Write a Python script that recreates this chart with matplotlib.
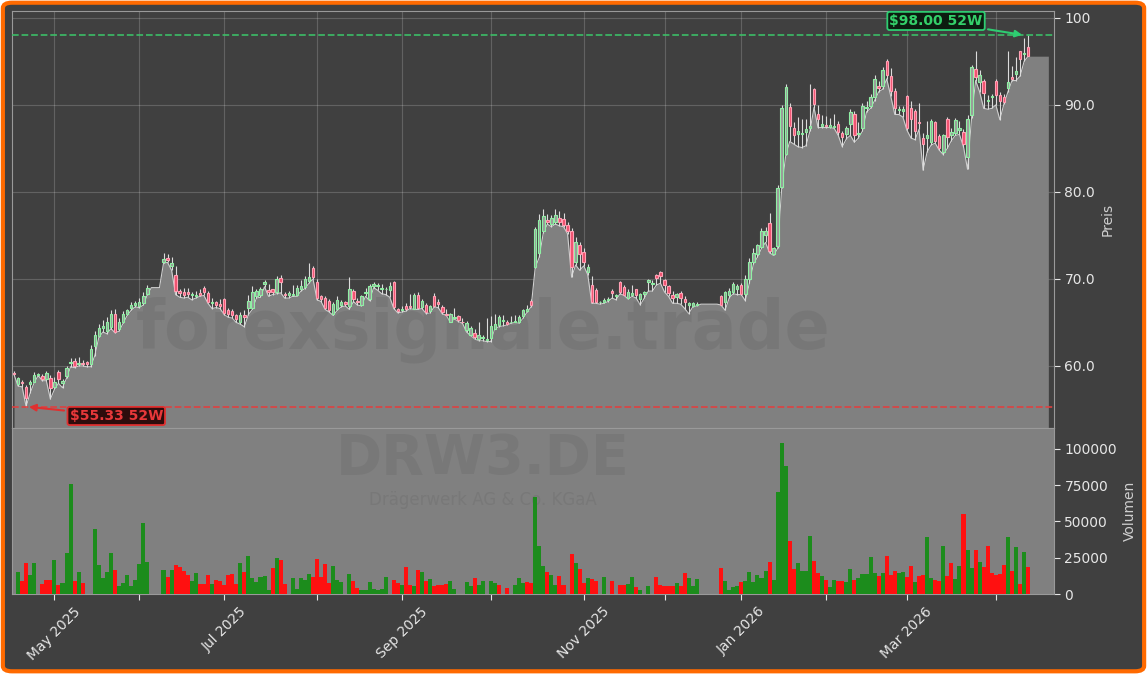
import numpy as np
import pandas as pd
import matplotlib
matplotlib.use("Agg")
import matplotlib.pyplot as plt
from matplotlib.patches import FancyBboxPatch
from matplotlib.ticker import FuncFormatter, FixedLocator

# ---------------- data ----------------
holidays = ['2025-04-18', '2025-04-21', '2025-05-01', '2025-12-24', '2025-12-25',
            '2025-12-26', '2025-12-31', '2026-01-01', '2026-04-03', '2026-04-06']
dates = pd.bdate_range('2025-04-15', '2026-04-15')
dates = dates[~dates.isin(pd.to_datetime(holidays))]

open_ = [
    59.2, 57.9, 58.2, 57.6, 57.9, 58.2, 59.0, 58.9, 58.5, 58.6,
    57.6, 59.3, 58.0, 58.9, 60.3, 60.6, 60.2, 60.3, 60.4, 60.2,
    62.3, 63.4, 64.4, 64.0, 64.5, 66.0, 64.3, 65.1, 66.0, 66.7,
    67.0, 66.9, 67.2, 68.3, 69.0, 69.0, 69.0, 71.9, 72.4, 71.5,
    70.5, 68.6, 68.5, 68.5, 68.1, 68.0, 68.4, 69.0, 68.4, 67.2,
    67.3, 67.1, 67.7, 66.4, 66.3, 65.8, 65.0, 65.8, 66.7, 66.7,
    68.0, 68.1, 69.4, 68.7, 68.8, 68.5, 70.1, 68.3, 68.2, 68.1,
    68.2, 68.8, 69.1, 69.8, 71.3, 69.7, 68.0, 67.8, 67.5, 66.0,
    66.6, 67.0, 67.4, 66.9, 68.6, 67.5, 67.0, 68.4, 67.7, 69.2,
    69.2, 68.9, 68.8, 68.7, 69.6, 66.5, 66.4, 66.9, 66.9, 66.6,
    68.2, 66.8, 67.0, 66.3, 68.0, 67.3, 66.8, 66.0, 65.1, 65.5,
    65.7, 65.1, 64.1, 63.6, 63.8, 63.1, 63.2, 63.0, 63.2, 64.3,
    64.7, 65.2, 65.1, 65.0, 65.1, 65.0, 65.7, 66.3, 67.5, 71.4,
    73.0, 75.5, 76.8, 76.3, 76.6, 77.0, 76.9, 76.2, 75.5, 72.0,
    73.9, 73.1, 70.8, 69.3, 68.7, 67.3, 67.4, 67.6, 68.6, 68.0,
    69.7, 69.1, 67.8, 68.2, 68.8, 67.7, 68.3, 69.7, 69.4, 70.5,
    70.8, 69.9, 69.2, 68.1, 67.9, 68.4, 67.7, 67.0, 66.9, 67.0,
    67.1, 67.1, 67.1, 67.1, 67.1, 68.0, 67.4, 68.2, 68.5, 68.9,
    69.3, 68.3, 70.0, 72.0, 72.9, 73.7, 75.0, 76.4, 72.9, 73.8,
    80.6, 84.4, 89.8, 87.4, 86.6, 86.6, 86.9, 87.3, 91.8, 89.0,
    87.6, 87.7, 87.5, 87.5, 87.8, 86.8, 86.7, 87.8, 89.0, 86.6,
    87.3, 89.6, 89.9, 90.9, 92.2, 92.2, 95.1, 93.3, 91.6, 89.4,
    89.3, 91.0, 89.6, 89.3, 88.0, 86.2, 86.2, 85.7, 88.0, 86.4,
    84.6, 88.4, 86.5, 86.8, 87.1, 86.9, 84.0, 88.8, 94.1, 92.6,
    92.8, 90.4, 90.9, 92.8, 91.1, 90.9, 92.0, 93.2, 93.5, 96.2,
    95.8, 96.6]

high = [
    59.4, 58.7, 58.4, 57.8, 58.4, 59.3, 59.2, 59.1, 59.4, 59.0,
    58.7, 59.5, 58.5, 60.0, 60.9, 60.9, 61.0, 60.7, 60.6, 62.4,
    64.0, 64.8, 65.3, 65.6, 66.4, 66.6, 65.5, 66.3, 66.6, 67.3,
    67.5, 67.8, 68.5, 69.3, 69.0, 69.0, 69.0, 73.0, 72.9, 72.5,
    71.5, 68.9, 69.0, 69.0, 68.5, 68.6, 68.8, 69.2, 68.6, 67.8,
    67.5, 67.7, 67.8, 66.7, 66.5, 66.0, 66.2, 66.4, 68.2, 69.2,
    68.9, 69.1, 69.9, 69.4, 68.9, 70.3, 70.5, 68.5, 68.6, 69.3,
    69.3, 69.9, 70.3, 71.8, 71.5, 70.0, 68.2, 68.0, 67.7, 67.3,
    68.0, 67.6, 67.5, 70.2, 68.8, 67.8, 68.2, 69.0, 69.4, 69.6,
    69.5, 69.4, 69.1, 69.7, 69.8, 66.7, 66.9, 67.2, 68.3, 68.4,
    68.5, 67.7, 67.2, 67.0, 68.4, 67.7, 67.0, 66.6, 66.1, 66.7,
    65.9, 65.5, 65.2, 64.6, 64.3, 65.0, 63.5, 65.5, 65.7, 66.0,
    65.8, 65.8, 65.3, 65.7, 65.8, 65.9, 66.6, 67.0, 67.7, 76.0,
    77.5, 78.0, 77.5, 77.4, 78.0, 77.8, 77.6, 76.6, 75.8, 74.8,
    74.3, 73.5, 71.7, 70.3, 69.0, 67.5, 67.8, 67.9, 68.8, 68.3,
    69.8, 69.3, 68.8, 69.3, 68.9, 68.4, 68.6, 70.0, 69.9, 70.6,
    70.9, 70.0, 69.3, 68.6, 68.4, 68.6, 68.0, 67.4, 67.3, 67.3,
    67.1, 67.1, 67.1, 67.1, 67.1, 68.1, 68.6, 69.0, 69.7, 69.4,
    69.5, 70.5, 72.4, 73.5, 74.0, 75.9, 76.0, 77.6, 73.7, 80.8,
    90.0, 92.4, 90.2, 88.0, 88.6, 88.4, 88.4, 92.4, 92.0, 90.0,
    88.8, 88.7, 88.5, 89.0, 88.2, 87.0, 87.6, 89.5, 89.3, 88.0,
    90.2, 90.5, 91.3, 93.4, 92.8, 94.3, 95.3, 94.2, 92.0, 89.9,
    89.9, 91.1, 90.5, 89.5, 90.2, 86.8, 88.2, 88.4, 88.2, 86.6,
    86.7, 88.6, 87.3, 88.5, 88.1, 87.2, 88.8, 94.6, 96.2, 94.0,
    93.0, 91.1, 91.3, 93.0, 91.5, 91.2, 96.2, 94.5, 95.5, 96.2,
    97.7, 98.0]

low = [
    59.0, 57.7, 57.6, 55.33, 56.9, 58.1, 58.9, 58.3, 58.3, 56.2,
    57.3, 58.0, 57.5, 58.6, 59.9, 59.8, 60.0, 60.0, 59.9, 59.9,
    61.2, 63.3, 63.9, 63.7, 64.3, 63.8, 64.0, 64.9, 65.8, 66.4,
    66.8, 66.7, 67.0, 68.2, 69.0, 69.0, 69.0, 71.8, 71.9, 71.0,
    68.2, 67.9, 67.8, 67.9, 67.6, 67.8, 68.0, 68.1, 67.2, 66.6,
    66.7, 66.6, 65.9, 65.6, 65.5, 65.0, 64.8, 64.5, 65.9, 66.5,
    67.8, 67.9, 69.1, 68.0, 68.2, 68.3, 68.4, 67.8, 67.8, 68.0,
    68.0, 68.6, 68.9, 69.5, 70.0, 67.6, 67.4, 66.5, 66.2, 65.8,
    66.4, 66.8, 66.9, 66.5, 67.4, 67.0, 66.9, 68.0, 67.5, 69.0,
    68.7, 68.3, 68.2, 67.9, 66.6, 66.1, 66.2, 66.3, 66.6, 66.5,
    66.5, 66.6, 66.0, 66.1, 66.8, 66.7, 66.0, 65.8, 65.0, 65.4,
    65.1, 64.9, 63.9, 63.5, 63.1, 62.9, 62.9, 62.8, 62.8, 64.3,
    64.5, 64.6, 64.7, 64.9, 65.0, 64.9, 65.5, 66.2, 66.8, 71.3,
    72.5, 75.3, 76.3, 76.0, 76.3, 76.1, 76.0, 75.2, 70.2, 71.6,
    71.0, 71.5, 70.5, 67.2, 67.2, 67.1, 67.2, 67.4, 67.8, 67.6,
    68.3, 68.1, 67.7, 68.0, 67.8, 67.0, 67.8, 68.6, 68.6, 69.3,
    69.5, 68.5, 68.0, 67.2, 67.2, 67.1, 66.6, 66.0, 66.8, 66.9,
    67.1, 67.1, 67.1, 67.1, 67.1, 67.0, 66.4, 67.8, 68.3, 68.2,
    68.2, 67.5, 69.5, 71.7, 72.5, 73.5, 74.2, 73.0, 72.7, 73.5,
    80.4, 84.2, 85.8, 85.5, 85.2, 85.1, 85.3, 87.0, 89.7, 87.4,
    87.4, 87.4, 87.4, 87.3, 86.5, 85.2, 86.1, 86.5, 85.7, 86.2,
    87.0, 89.2, 89.6, 90.5, 91.5, 91.8, 93.0, 91.0, 88.9, 88.9,
    88.6, 87.1, 86.2, 86.0, 87.2, 82.5, 84.6, 85.4, 85.6, 84.8,
    84.3, 85.0, 85.9, 86.5, 86.6, 85.2, 82.6, 88.5, 92.8, 91.5,
    89.6, 89.5, 89.6, 90.0, 88.3, 90.1, 91.5, 92.8, 92.8, 93.3,
    95.0, 95.6]

close = [
    59.1, 58.6, 58.0, 56.3, 58.2, 59.0, 59.0, 58.5, 59.2, 57.5,
    58.2, 58.5, 58.3, 59.8, 60.5, 60.0, 60.3, 60.2, 60.2, 62.0,
    63.5, 64.4, 64.6, 65.1, 66.0, 63.9, 65.1, 66.0, 66.4, 67.0,
    67.2, 67.4, 68.0, 69.0, 69.0, 69.0, 69.0, 72.3, 72.2, 71.8,
    68.6, 68.4, 68.2, 68.3, 68.3, 68.2, 68.2, 68.5, 67.4, 67.3,
    67.0, 66.9, 66.1, 66.0, 65.8, 65.4, 65.9, 65.6, 67.5, 68.5,
    68.6, 68.8, 69.6, 68.5, 68.5, 70.0, 69.7, 68.2, 68.4, 68.3,
    69.0, 69.2, 70.0, 70.2, 70.2, 67.8, 67.7, 66.7, 66.4, 67.1,
    67.6, 67.4, 67.1, 68.8, 67.7, 67.3, 68.0, 68.5, 69.2, 69.4,
    69.3, 69.0, 68.9, 69.2, 66.8, 66.3, 66.5, 66.5, 66.8, 68.2,
    66.7, 67.5, 66.2, 66.9, 66.9, 67.1, 66.2, 65.9, 66.0, 65.6,
    65.3, 65.0, 64.9, 64.4, 63.3, 63.6, 63.3, 63.1, 64.6, 64.8,
    65.6, 65.3, 64.8, 65.1, 65.2, 65.6, 66.4, 66.5, 67.0, 75.7,
    76.8, 77.2, 76.6, 77.0, 77.4, 76.5, 76.2, 75.5, 71.4, 74.2,
    72.9, 71.9, 71.4, 67.4, 67.4, 67.3, 67.6, 67.6, 68.4, 68.1,
    68.5, 68.2, 68.5, 68.4, 68.2, 68.3, 68.5, 69.9, 69.5, 70.1,
    70.3, 69.3, 68.4, 67.8, 68.3, 67.8, 67.4, 67.2, 67.2, 67.1,
    67.1, 67.1, 67.1, 67.1, 67.1, 67.0, 68.5, 68.6, 69.4, 69.2,
    68.3, 70.0, 72.0, 73.0, 73.9, 75.5, 75.5, 73.2, 73.5, 80.4,
    89.7, 92.1, 87.6, 86.5, 87.0, 86.8, 87.2, 87.6, 90.1, 88.4,
    87.8, 87.6, 87.7, 87.6, 86.9, 86.3, 87.3, 89.2, 86.5, 86.8,
    89.9, 89.8, 90.9, 93.0, 91.9, 94.0, 93.4, 91.6, 89.7, 89.5,
    89.5, 87.4, 88.4, 87.0, 87.9, 85.5, 86.5, 88.2, 85.9, 85.1,
    86.5, 86.3, 86.9, 88.3, 87.3, 85.5, 88.4, 94.3, 93.2, 93.4,
    91.4, 90.6, 91.0, 91.1, 90.5, 90.3, 92.6, 93.0, 93.9, 95.3,
    96.0, 95.6]

volume = [
    0, 14900, 9000, 21100, 13100, 21100, 0, 6900, 9600, 9600,
    23400, 6200, 7300, 28000, 75800, 9000, 14900, 7600, 0, 0,
    44800, 20000, 11300, 15200, 28000, 16500, 5500, 7800, 13100, 5500,
    9600, 20700, 48700, 22000, 0, 0, 0, 16500, 11900, 16500,
    20000, 18400, 15800, 13100, 9000, 14500, 6900, 6900, 13100, 6900,
    9600, 9000, 6200, 13100, 13800, 6900, 21100, 15200, 26200, 11000,
    8300, 11700, 12400, 3000, 18100, 24800, 23400, 6900, 0, 11000,
    3400, 11000, 9600, 13800, 11700, 24100, 11700, 20700, 7600, 19300,
    9600, 8300, 0, 13800, 9000, 4100, 2800, 2800, 8300, 3400,
    2800, 3400, 11700, 0, 9600, 7300, 6200, 18800, 6200, 5500,
    16500, 15200, 9000, 10300, 5500, 6200, 6200, 6900, 9000, 3400,
    0, 0, 8300, 5500, 11000, 6200, 9000, 0, 9000, 7600,
    6200, 0, 4100, 0, 6200, 11000, 7600, 8300, 7600, 66800,
    33100, 19300, 15200, 13100, 6200, 12400, 6200, 0, 27600, 21400,
    17200, 7600, 11000, 10300, 9000, 0, 11700, 0, 9000, 0,
    6200, 6200, 6900, 11700, 4800, 2800, 0, 5500, 0, 11700,
    6200, 5500, 5500, 5500, 7600, 5500, 14500, 11000, 5500, 10300,
    0, 0, 0, 0, 0, 17900, 9000, 2800, 4800, 5500,
    8300, 9000, 15200, 8300, 13100, 11000, 15800, 22000, 9600, 70300,
    104000, 88200, 36500, 17200, 21100, 15800, 15800, 40000, 22700, 14500,
    12400, 9600, 4800, 9600, 9000, 9000, 8300, 17200, 9600, 11000,
    13800, 13800, 25500, 14500, 12400, 14500, 26200, 13100, 15800, 14500,
    15200, 11700, 19300, 8300, 12400, 13100, 39300, 11000, 9600, 9000,
    33100, 12400, 21400, 10300, 19300, 55100, 30300, 17900, 30300, 22000,
    18600, 33100, 14500, 13100, 13800, 20000, 39300, 15800, 32400, 6900,
    28900, 18600]

volume_dir = ("ggrrgggrrr" "grgggrgrgg" "gggggrgggg" "ggggggggrg" "rrrrggrrrg"
              "rrrrrrgrgg" "ggggrgrrgg" "ggggrrrrrg" "ggggrrgggg" "ggggrrgrrg"
              "rgrgrrrrgg" "ggggrggggg" "rgrggggrrg" "ggrggrrgrg" "rrgrrgggrg"
              "rrggrggggr" "rrrrgrrggg" "gggggrgggg" "rggggggrgg" "ggrrggggrr"
              "grggrrggrg" "ggggrgrrrg" "grrgrrggrr" "grrggrggrg" "rrrrrrgrgr"
              "gr")

low_52w = 55.33
high_52w = 98.00

# ---------------- styling ----------------
BG = '#404040'
FILL = '#808080'
TXT = '#e6e6e6'
SPINE = '#9a9a9a'

o = np.array(open_); h = np.array(high); l = np.array(low); c = np.array(close)
v = np.array(volume)
n = len(c)
x = np.arange(n)

fig = plt.figure(figsize=(11.47, 6.74), dpi=100, facecolor='white')
frame = FancyBboxPatch((0.0025, 0.004), 0.995, 0.992, boxstyle='round,pad=0,rounding_size=0.008',
                       transform=fig.transFigure, facecolor=BG, edgecolor='#ff6a00',
                       linewidth=3, zorder=-10)
fig.patches.append(frame)

L, R = 12 / 1147, 1054 / 1147
top_p, bot_p, bot_v = 1 - 11 / 674, 1 - 428 / 674, 1 - 594 / 674
ax = fig.add_axes([L, bot_p, R - L, top_p - bot_p])
axv = fig.add_axes([L, bot_v, R - L, bot_p - bot_v], sharex=ax)

ax.set_facecolor(BG)
axv.set_facecolor(FILL)

ymin, ymax = l.min() * 0.9555, h.max() * 1.0285

# month ticks (first trading day of each month)
months = dates.to_period('M')
tick_idx = [i for i in range(1, n) if months[i] != months[i - 1]]
tick_lab = [dates[i].strftime('%b %Y') if dates[i].month % 2 == 1 else '' for i in tick_idx]

# price panel
ext = 5
x_ext = np.arange(n + ext)
low_ext = np.r_[l, np.full(ext, l[-1])]
ax.fill_between(x_ext, low_ext, ymin, color=FILL, zorder=1, linewidth=0)
ax.plot(x, l, color='#cfcfcf', lw=0.8, zorder=2)

ax.text(0.452, 0.235, 'forexsignale.trade', transform=ax.transAxes, ha='center', va='center',
        fontsize=48, fontweight='bold', color='#404040', alpha=0.13, zorder=2.5)

up = c >= o
flat = h == l
ax.vlines(x[~flat], l[~flat], h[~flat], color='#dcdcdc', lw=0.8, zorder=3)
body_b = np.minimum(o, c)
body_h = np.maximum(np.abs(c - o), 0.05)
m_up = up & ~flat
m_dn = ~up & ~flat
ax.bar(x[m_up], body_h[m_up], bottom=body_b[m_up], width=0.6, color='#9a9a9a',
       edgecolor='#8ff0a4', linewidth=0.8, zorder=4)
ax.bar(x[m_dn], body_h[m_dn], bottom=body_b[m_dn], width=0.6, color='#f0506e',
       edgecolor='#ffa0b4', linewidth=0.8, zorder=4)

ax.axhline(high_52w, color='#3cc068', ls='--', lw=1.3, alpha=0.9, zorder=5)
ax.axhline(low_52w, color='#e04040', ls='--', lw=1.3, alpha=0.9, zorder=5)

i_hi = int(np.argmax(h)); i_lo = int(np.argmin(l))
ax.annotate(r'\$%.2f 52W' % high_52w, xy=(i_hi - 0.8, high_52w), xytext=(228.2, 99.65),
            color='#34d06a', fontsize=10, fontweight='bold', ha='center', va='center',
            bbox=dict(boxstyle='round,pad=0.15', fc='#0c1c10', ec='#2ecc71', lw=1.3),
            arrowprops=dict(arrowstyle='-|>', color='#2ecc71', lw=1.5, mutation_scale=10),
            zorder=6)
ax.annotate(r'\$%.2f 52W' % low_52w, xy=(i_lo, low_52w), xytext=(25.3, 54.25),
            color='#e8383a', fontsize=10, fontweight='bold', ha='center', va='center',
            bbox=dict(boxstyle='round,pad=0.15', fc='#2e0c0c', ec='#e03030', lw=1.3),
            arrowprops=dict(arrowstyle='-|>', color='#e03030', lw=1.5, mutation_scale=10),
            zorder=6)

ax.set_ylim(ymin, ymax)
ax.set_xlim(-0.5, n - 1 + 6.4)
ax.yaxis.tick_right()
ax.yaxis.set_label_position('right')
ax.set_yticks([60, 70, 80, 90, 100])
ax.yaxis.set_major_formatter(FuncFormatter(lambda val, p: f'{val:.0f}' if val >= 100 else f'{val:.1f}'))
ax.set_ylabel('Preis', color='#cfcfcf', fontsize=10)
ax.xaxis.set_major_locator(FixedLocator(tick_idx))
ax.tick_params(axis='x', bottom=False, labelbottom=False)
ax.tick_params(axis='y', colors=TXT, labelsize=10, length=4)
ax.grid(True, color='white', alpha=0.18, lw=0.8, zorder=0)
ax.set_axisbelow(True)
for s in ax.spines.values():
    s.set_color(SPINE)

# volume panel
vol_colors = ['#1c8c1c' if d == 'g' else '#ff1010' for d in volume_dir]
axv.bar(x, v, width=1.0, color=vol_colors, linewidth=0, zorder=3)
axv.text(0.452, 0.815, 'DRW3.DE', transform=axv.transAxes, ha='center', va='center',
         fontsize=40, fontweight='bold', color='#404040', alpha=0.12, zorder=1)
axv.text(0.452, 0.565, 'Drägerwerk AG & Co. KGaA', transform=axv.transAxes, ha='center', va='center',
         fontsize=12, color='#404040', alpha=0.12, zorder=1)
axv.set_ylim(0, v.max() * 1.1)
axv.yaxis.tick_right()
axv.yaxis.set_label_position('right')
axv.set_yticks([0, 25000, 50000, 75000, 100000])
axv.yaxis.set_major_formatter(FuncFormatter(lambda val, p: f'{val:.0f}'))
axv.set_ylabel('Volumen', color='#cfcfcf', fontsize=10)
axv.xaxis.set_major_locator(FixedLocator(tick_idx))
axv.set_xticklabels(tick_lab, rotation=45, ha='center', fontsize=10, color=TXT)
axv.tick_params(axis='x', colors=TXT, length=4)
axv.tick_params(axis='y', colors=TXT, labelsize=10, length=4)
for s in axv.spines.values():
    s.set_color(SPINE)

fig.savefig('out.png', dpi=100, facecolor=fig.get_facecolor())
